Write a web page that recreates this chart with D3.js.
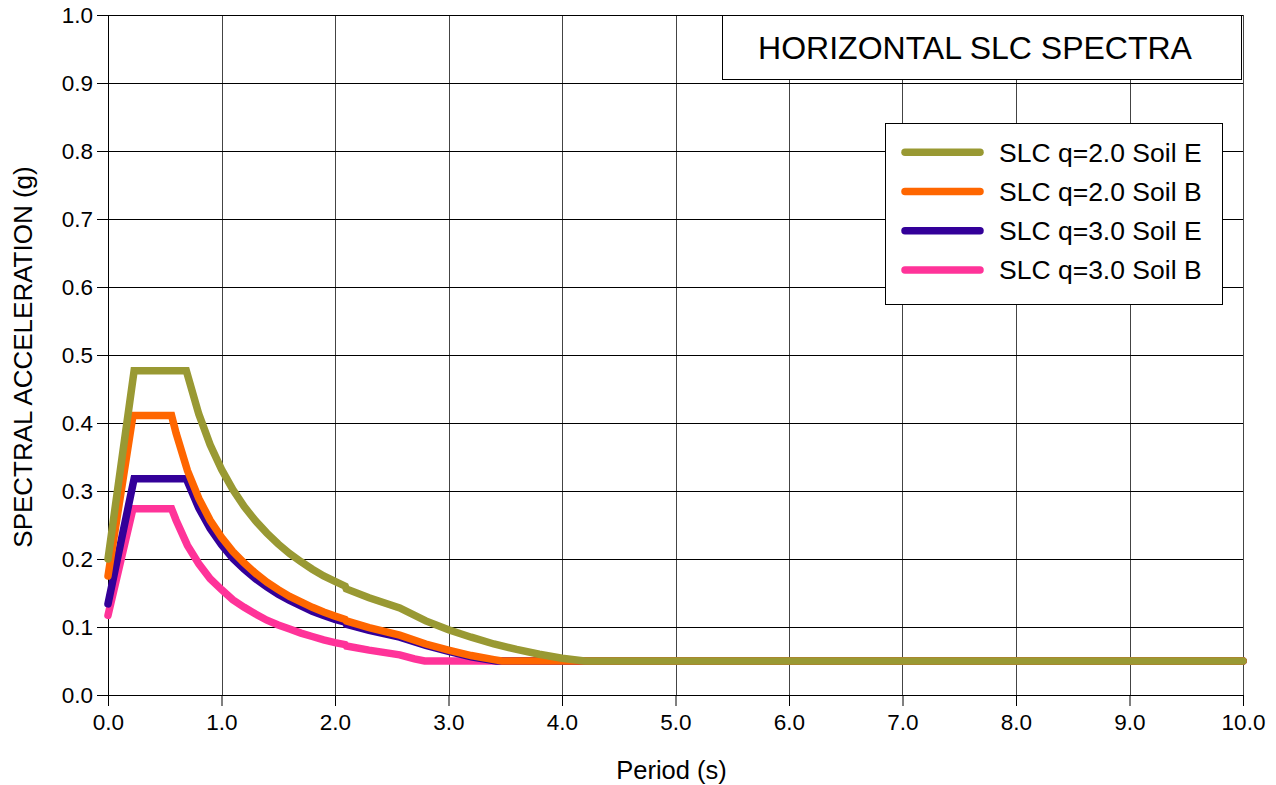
<!DOCTYPE html>
<html>
<head>
<meta charset="utf-8">
<script src="https://cdn.jsdelivr.net/npm/d3@7"></script>
<style>
  html, body { margin: 0; padding: 0; background: #fff; }
  svg { display: block; font-family: "Liberation Sans", Arial, sans-serif; }
</style>
</head>
<body>
<svg id="chart" width="1276" height="785"></svg>
<script>
// Axis ticks
const xTicks = [0, 1, 2, 3, 4, 5, 6, 7, 8, 9, 10];
const yTicks = [0, 0.1, 0.2, 0.3, 0.4, 0.5, 0.6, 0.7, 0.8, 0.9, 1.0];

// Series labels and colours
const seriesNames = ["SLC q=2.0 Soil E", "SLC q=2.0 Soil B", "SLC q=3.0 Soil E", "SLC q=3.0 Soil B"];
const seriesColors = ["#999933", "#ff6600", "#330099", "#ff3399"];

// SLC q=2.0 Soil E  (period s, spectral acceleration g)
const periodE2 = [0, 0.23, 0.69, 0.8, 0.9, 1.0, 1.1, 1.2, 1.3, 1.4, 1.5, 1.6, 1.7, 1.8, 1.9, 2.0, 2.09, 2.10, 2.3, 2.57, 2.8, 3.0, 3.2, 3.4, 3.6, 3.8, 4.0, 4.2, 10];
const accelE2  = [0.200, 0.477, 0.477, 0.413, 0.368, 0.332, 0.302, 0.277, 0.256, 0.238, 0.222, 0.208, 0.196, 0.185, 0.175, 0.167, 0.160, 0.156, 0.143, 0.128, 0.109, 0.096, 0.085, 0.075, 0.067, 0.060, 0.054, 0.050, 0.050];

// SLC q=2.0 Soil B
const periodB2 = [0, 0.22, 0.56, 0.6, 0.7, 0.8, 0.9, 1.0, 1.1, 1.2, 1.3, 1.4, 1.5, 1.6, 1.7, 1.8, 1.9, 2.0, 2.09, 2.10, 2.3, 2.57, 2.8, 3.0, 3.2, 3.4, 3.47, 10];
const accelB2  = [0.175, 0.411, 0.411, 0.385, 0.330, 0.289, 0.257, 0.232, 0.211, 0.194, 0.179, 0.166, 0.155, 0.145, 0.137, 0.129, 0.122, 0.116, 0.111, 0.109, 0.099, 0.088, 0.075, 0.066, 0.058, 0.052, 0.050, 0.050];

// SLC q=3.0 Soil E
const periodE3 = [0, 0.23, 0.69, 0.8, 0.9, 1.0, 1.1, 1.2, 1.3, 1.4, 1.5, 1.6, 1.7, 1.8, 1.9, 2.0, 2.09, 2.10, 2.3, 2.57, 2.8, 3.0, 3.2, 3.42, 10];
const accelE3  = [0.134, 0.318, 0.318, 0.275, 0.245, 0.221, 0.201, 0.185, 0.171, 0.159, 0.148, 0.139, 0.131, 0.123, 0.117, 0.111, 0.107, 0.104, 0.095, 0.085, 0.073, 0.064, 0.056, 0.050, 0.050];

// SLC q=3.0 Soil B
const periodB3 = [0, 0.22, 0.56, 0.6, 0.7, 0.8, 0.9, 1.0, 1.1, 1.2, 1.3, 1.4, 1.5, 1.6, 1.7, 1.8, 1.9, 2.0, 2.09, 2.10, 2.3, 2.57, 2.7, 2.79, 10];
const accelB3  = [0.117, 0.274, 0.274, 0.257, 0.220, 0.193, 0.171, 0.155, 0.140, 0.129, 0.119, 0.110, 0.103, 0.097, 0.091, 0.086, 0.081, 0.077, 0.074, 0.072, 0.066, 0.059, 0.053, 0.050, 0.050];

const seriesData = [
  d3.zip(periodE2, accelE2),
  d3.zip(periodB2, accelB2),
  d3.zip(periodE3, accelE3),
  d3.zip(periodB3, accelB3)
];

const svg = d3.select("#chart");
const W = 1276, H = 785;
const margin = { left: 108, right: 33, top: 15, bottom: 90 };

const x = d3.scaleLinear().domain([0, 10]).range([margin.left, W - margin.right]);
const y = d3.scaleLinear().domain([0, 1]).range([H - margin.bottom, margin.top]);

// Grid
const grid = svg.append("g").attr("shape-rendering", "crispEdges");
grid.selectAll("line.vx").data(xTicks.filter(d => d > 0)).join("line")
  .attr("x1", d => Math.round(x(d)) + 0.5).attr("x2", d => Math.round(x(d)) + 0.5)
  .attr("y1", y(1)).attr("y2", y(0))
  .attr("stroke", "#444").attr("stroke-width", 1);
grid.selectAll("line.hy").data(yTicks.filter(d => d > 0)).join("line")
  .attr("x1", x(0)).attr("x2", x(10))
  .attr("y1", d => Math.round(y(d)) + 0.5).attr("y2", d => Math.round(y(d)) + 0.5)
  .attr("stroke", "#000").attr("stroke-width", 1);

// Axes
const fmt = d3.format(".1f");
const xAxis = svg.append("g")
  .attr("transform", `translate(0,${y(0)})`)
  .call(d3.axisBottom(x).tickValues(xTicks).tickFormat(fmt).tickSize(11).tickSizeOuter(0).tickPadding(8));
const yAxis = svg.append("g")
  .attr("transform", `translate(${x(0)},0)`)
  .call(d3.axisLeft(y).tickValues(yTicks).tickFormat(fmt).tickSize(11).tickSizeOuter(0).tickPadding(4));
[xAxis, yAxis].forEach(g => {
  g.selectAll("text").attr("font-size", 22.5).attr("fill", "#000")
    .attr("font-family", "'Liberation Sans', Arial, sans-serif");
  g.selectAll("line, path").attr("stroke", "#000");
});
xAxis.select(".domain").attr("d", `M${x(0) - 11},0.5H${x(10)}`);

// Axis titles
svg.append("text")
  .attr("x", (x(0) + x(10)) / 2 - 4).attr("y", 779)
  .attr("text-anchor", "middle").attr("font-size", 25.5)
  .text("Period (s)");
svg.append("text")
  .attr("transform", `translate(31.5,${(y(0) + y(1)) / 2 + 2}) rotate(-90)`)
  .attr("text-anchor", "middle").attr("font-size", 26)
  .text("SPECTRAL ACCELERATION (g)");

// Spectra, drawn bottom layer first
const line = d3.line().x(d => x(d[0])).y(d => y(d[1]));
const order = [3, 2, 1, 0];
svg.append("g").selectAll("path").data(order).join("path")
  .attr("d", i => line(seriesData[i]))
  .attr("fill", "none")
  .attr("stroke", i => seriesColors[i])
  .attr("stroke-width", 7.5)
  .attr("stroke-linecap", "round")
  .attr("stroke-linejoin", "miter");

// Title box
const titleG = svg.append("g");
titleG.append("rect")
  .attr("x", 722.5).attr("y", 15.5).attr("width", 519).attr("height", 64)
  .attr("fill", "#fff").attr("stroke", "#000").attr("stroke-width", 1);
titleG.append("text")
  .attr("x", 975).attr("y", 58.5).attr("text-anchor", "middle")
  .attr("font-size", 32).text("HORIZONTAL SLC SPECTRA");

// Legend
const legend = svg.append("g");
legend.append("rect")
  .attr("x", 885.5).attr("y", 123.5).attr("width", 337).attr("height", 181)
  .attr("fill", "#fff").attr("stroke", "#000").attr("stroke-width", 1);
const rows = legend.selectAll("g.row").data(seriesNames).join("g")
  .attr("transform", (d, i) => `translate(0,${152.3 + i * 39.2})`);
rows.append("line")
  .attr("x1", 905).attr("x2", 980).attr("y1", 0).attr("y2", 0)
  .attr("stroke", (d, i) => seriesColors[i]).attr("stroke-width", 7.5)
  .attr("stroke-linecap", "round");
rows.append("text")
  .attr("x", 999).attr("y", 9.5).attr("font-size", 26.5)
  .text(d => d);
</script>
</body>
</html>
